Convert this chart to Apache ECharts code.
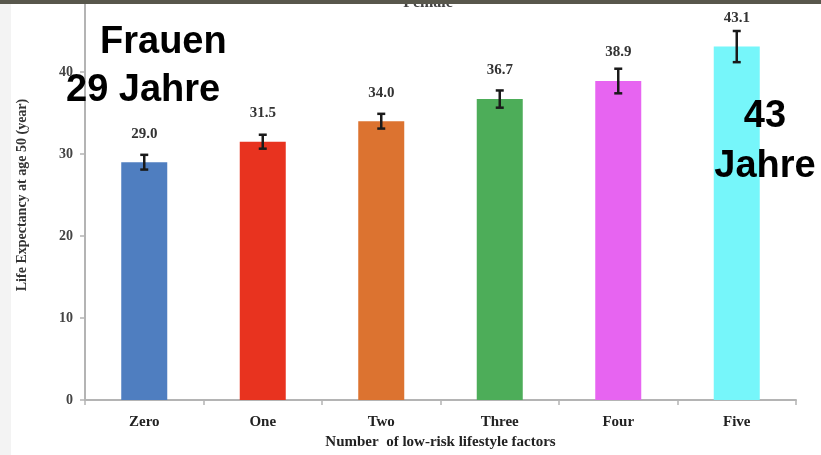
<!DOCTYPE html>
<html>
<head>
<meta charset="utf-8">
<script src="https://cdn.jsdelivr.net/npm/echarts@6/dist/echarts.min.js"></script>
<style>
  html, body { margin: 0; padding: 0; background: #ffffff; }
  #chart { width: 821px; height: 455px; }
</style>
</head>
<body>
<div id="chart"></div>
<script>
// Life expectancy at age 50 by number of low-risk lifestyle factors (women)
const categories = ['Zero', 'One', 'Two', 'Three', 'Four', 'Five'];
const lifeExpectancy = [29.0, 31.5, 34.0, 36.7, 38.9, 43.1];
const errorMargin = [0.9, 0.85, 0.9, 1.05, 1.5, 1.9];
const barColors = ['#4f7ec0', '#e8331f', '#dc7330', '#4dad59', '#e764f1', '#76f6fa'];
const yTicks = [0, 10, 20, 30, 40];

const serif = '"Liberation Serif", "DejaVu Serif", serif';
const sans = '"Liberation Sans", Arial, sans-serif';

const chart = echarts.init(document.getElementById('chart'), null, { renderer: 'canvas' });

const errorData = lifeExpectancy.map((v, i) => [i, v - errorMargin[i], v + errorMargin[i]]);

chart.setOption({
  backgroundColor: '#ffffff',
  animation: false,
  title: {
    text: 'Female',
    left: 423,
    textAlign: 'center',
    top: -10,
    textStyle: { fontFamily: serif, fontWeight: 'bold', fontSize: 16, color: '#444' }
  },
  grid: { left: 85, right: 25, bottom: 55, height: 410, outerBoundsMode: 'none', containLabel: false },
  xAxis: {
    type: 'category',
    data: categories,
    axisLine: { lineStyle: { color: '#b4b4b4', width: 2 } },
    axisTick: { show: true, length: 5, lineStyle: { color: '#b4b4b4', width: 1.5 } },
    axisLabel: { fontFamily: serif, fontWeight: 'bold', fontSize: 15, color: '#222', margin: 15 },
    name: 'Number  of low-risk lifestyle factors',
    nameLocation: 'middle',
    nameGap: 34,
    nameTextStyle: { fontFamily: serif, fontWeight: 'bold', fontSize: 15, color: '#222' }
  },
  yAxis: {
    type: 'value',
    min: 0,
    max: 50,
    interval: 10,
    splitLine: { show: false },
    axisLine: { show: true, lineStyle: { color: '#b4b4b4', width: 2 } },
    axisTick: { show: true, length: 5, lineStyle: { color: '#b4b4b4', width: 1.5 } },
    axisLabel: {
      fontFamily: serif, fontWeight: 'bold', fontSize: 14, color: '#444', margin: 12,
      formatter: v => (yTicks.includes(v) ? String(v) : '')
    },
    name: 'Life Expectancy at age 50 (year)',
    nameLocation: 'middle',
    nameGap: 56,
    nameTextStyle: { fontFamily: serif, fontWeight: 'bold', fontSize: 14, color: '#333' }
  },
  series: [
    {
      type: 'bar',
      barWidth: 46,
      data: lifeExpectancy.map((v, i) => ({ value: v, itemStyle: { color: barColors[i] } })),
      label: {
        show: true,
        position: 'top',
        distance: 21,
        formatter: p => p.value.toFixed(1),
        fontFamily: serif, fontWeight: 'bold', fontSize: 15, color: '#333'
      }
    },
    {
      type: 'custom',
      data: errorData,
      z: 5,
      renderItem: function (params, api) {
        const x = api.value(0);
        const lo = api.coord([x, api.value(1)]);
        const hi = api.coord([x, api.value(2)]);
        const cap = 4;
        const style = { stroke: '#1a1a1a', lineWidth: 2.5 };
        return {
          type: 'group',
          children: [
            { type: 'line', shape: { x1: lo[0], y1: lo[1], x2: hi[0], y2: hi[1] }, style: style },
            { type: 'line', shape: { x1: lo[0] - cap, y1: lo[1], x2: lo[0] + cap, y2: lo[1] }, style: style },
            { type: 'line', shape: { x1: hi[0] - cap, y1: hi[1], x2: hi[0] + cap, y2: hi[1] }, style: style }
          ]
        };
      }
    }
  ],
  graphic: [
    { type: 'rect', left: 0, top: 0, shape: { width: 821, height: 4 }, style: { fill: '#58574c' }, z: 100 },
    { type: 'rect', left: 0, top: 4, shape: { width: 11, height: 451 }, style: { fill: '#f3f3f3' }, z: -1 },
    {
      type: 'text', left: 100, top: 24, z: 100,
      style: { text: 'Frauen', font: 'bold 38px ' + sans, fill: '#000' }
    },
    {
      type: 'text', left: 66, top: 72, z: 100,
      style: { text: '29 Jahre', font: 'bold 38px ' + sans, fill: '#000' }
    },
    {
      type: 'text', x: 765, y: 92, z: 100,
      style: { text: '43\nJahre', font: 'bold 38px ' + sans, fill: '#000', align: 'center', lineHeight: 50 }
    }
  ]
});
</script>
</body>
</html>
